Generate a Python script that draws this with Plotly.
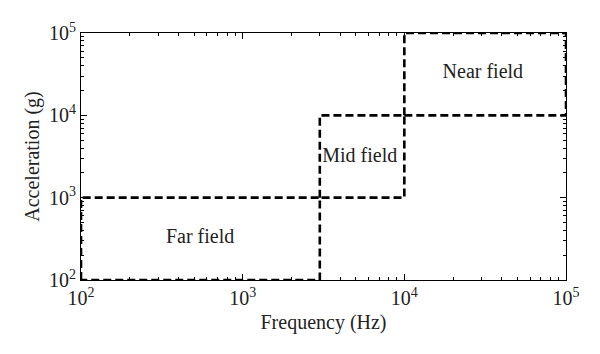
import plotly.graph_objects as go

# Region boundaries (Hz, g)
regions = ["Far field", "Mid field", "Near field"]
freq_lo = [1e2, 3e3, 1e4]
freq_hi = [3e3, 1e4, 1e5]
acc_lo = [1e2, 1e3, 1e4]
acc_hi = [1e3, 1e4, 1e5]

# Label positions
label_x = [545, 5300, 30600]
label_y = [324, 3120, 32700]

tick_vals = [1e2, 1e3, 1e4, 1e5]
tick_text = ["10<sup>2</sup>", "10<sup>3</sup>", "10<sup>4</sup>", "10<sup>5</sup>"]
minor_vals = [m * 10 ** e for e in (2, 3, 4) for m in range(2, 10)]

FONT = "Liberation Serif"

fig = go.Figure()
for i, name in enumerate(regions):
    xs = [freq_lo[i], freq_lo[i], freq_hi[i], freq_hi[i], freq_lo[i]]
    ys = [acc_lo[i], acc_hi[i], acc_hi[i], acc_lo[i], acc_lo[i]]
    fig.add_trace(go.Scatter(
        x=xs, y=ys, mode="lines", name=name, showlegend=False,
        line=dict(color="black", width=2.6, dash="8px,4px"),
        hoverinfo="skip", cliponaxis=False,
    ))

fig.add_trace(go.Scatter(
    x=label_x, y=label_y, mode="text", text=regions,
    textfont=dict(family=FONT, size=20, color="#222"),
    showlegend=False, hoverinfo="skip",
))

axis_common = dict(
    type="log", showgrid=False, zeroline=False,
    showline=True, linecolor="black", linewidth=1, mirror="allticks",
    ticks="inside", ticklen=6, tickcolor="black", tickwidth=1,
    minor=dict(ticks="inside", ticklen=3, tickcolor="black", tickwidth=1,
               showgrid=False, tickmode="array", tickvals=minor_vals),
    tickmode="array", tickvals=tick_vals, ticktext=tick_text,
    tickfont=dict(family=FONT, size=20, color="#222"),
)

fig.update_xaxes(range=[2, 5], title=dict(text="Frequency (Hz)", font=dict(family=FONT, size=20, color="#222"), standoff=6), **axis_common)
fig.update_yaxes(range=[2, 5], title=dict(text="Acceleration (g)", font=dict(family=FONT, size=20, color="#222"), standoff=4), **axis_common)

fig.update_layout(
    width=600, height=354,
    margin=dict(l=81, r=34, t=33, b=74),
    plot_bgcolor="white", paper_bgcolor="white",
    font=dict(family=FONT),
)

fig.write_html("out.html")
